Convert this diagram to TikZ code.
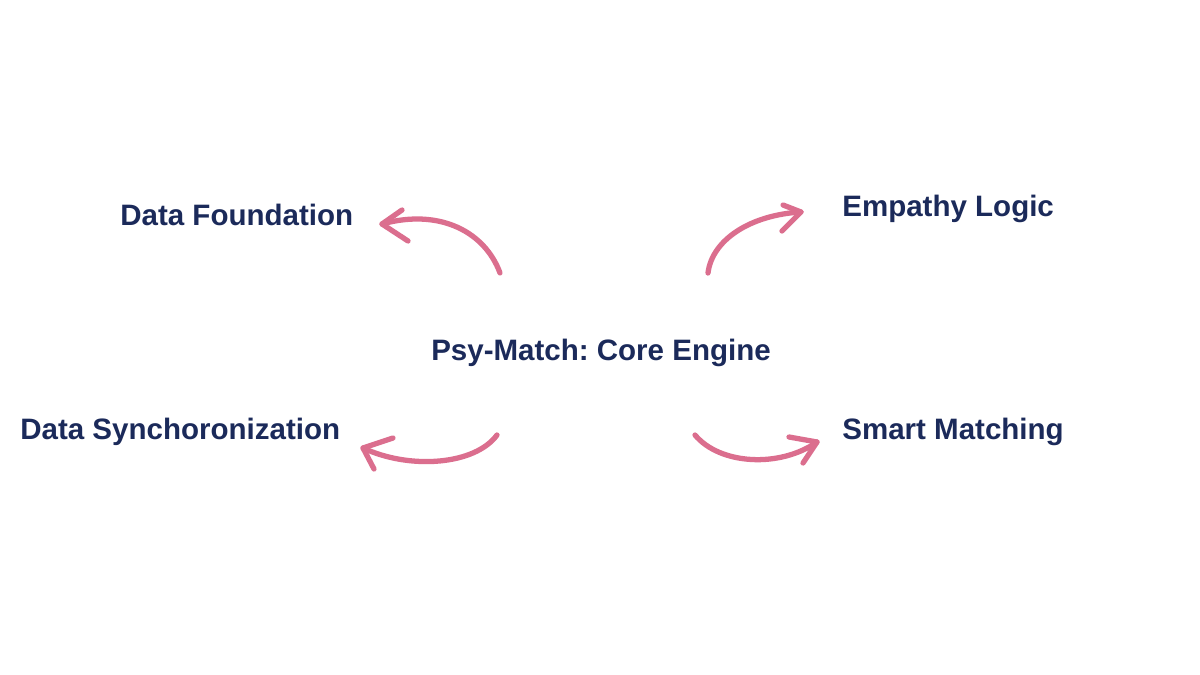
\documentclass[tikz,border=0pt]{standalone}
\usepackage{fontspec}
\setmainfont{Liberation Sans}
\definecolor{navy}{HTML}{1B2A5A}
\definecolor{pinkish}{HTML}{DB6E8E}
\frenchspacing
\begin{document}
\begin{tikzpicture}[x=0.02cm,y=-0.02cm,
  lbl/.style={font=\fontsize{16.8}{20}\selectfont\bfseries, text=navy, inner sep=0pt},
  brush/.style={draw=pinkish, line width=3pt, line cap=round, line join=round}]
\useasboundingbox[fill=white] (0,0) rectangle (1200,675);
\node[lbl, anchor=base] (core) at (601,361) {Psy-Match: Core Engine};
\node[lbl, anchor=base west] (found) at (120,226) {Data Foundation};
\node[lbl, anchor=base west] (emp) at (842,217) {Empathy Logic};
\node[lbl, anchor=base west] (sync) at (20,439) {Data Synchoronization};
\node[lbl, anchor=base west] (smart) at (842,439) {Smart Matching};
% arrow 1
\coordinate (s1) at (500,273); \coordinate (t1) at (382,224);
\draw[brush] (s1) .. controls (485,232) and (440,208) .. (t1);
\draw[brush] (402,210) -- (t1) -- (408,241);
% arrow 2
\coordinate (s2) at (708,273); \coordinate (t2) at (801,212);
\draw[brush] (s2) .. controls (712,240) and (750,215) .. (t2);
\draw[brush] (783,205) -- (t2) -- (782,231);
% arrow 3
\coordinate (s3) at (497,435); \coordinate (t3) at (363,448);
\draw[brush] (s3) .. controls (475,465) and (410,470) .. (t3);
\draw[brush] (393,438) -- (t3) -- (374,469);
% arrow 4
\coordinate (s4) at (695,435); \coordinate (t4) at (817,442);
\draw[brush] (s4) .. controls (720,465) and (780,468) .. (t4);
\draw[brush] (789,437) -- (t4) -- (803,463);
\end{tikzpicture}
\end{document}
